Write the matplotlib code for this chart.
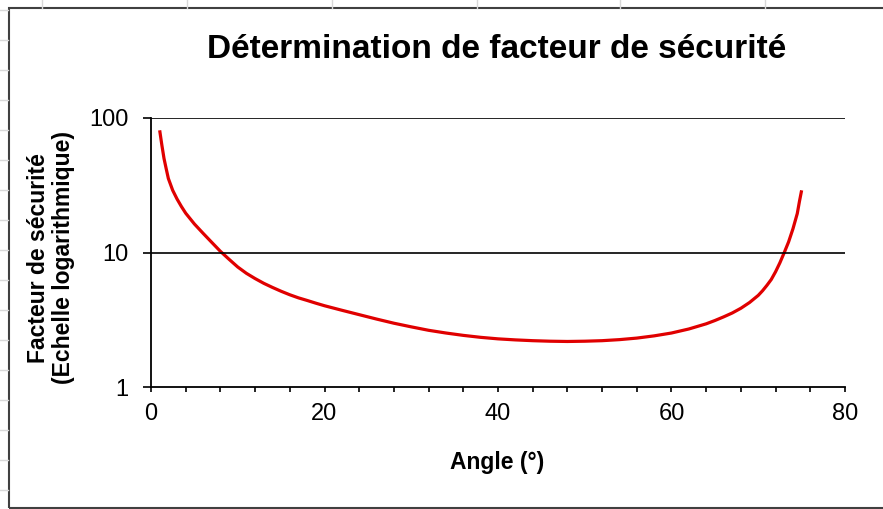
import matplotlib
matplotlib.use("Agg")
import matplotlib.pyplot as plt
from matplotlib.patches import Rectangle
from matplotlib.lines import Line2D
from matplotlib.ticker import FixedLocator, NullLocator

plt.rcParams['font.family'] = ['Liberation Sans', 'DejaVu Sans']

# values
angles = [1, 1.25, 1.5, 1.75, 2, 2.5, 3, 3.5, 4, 5, 6, 7, 8, 9, 10, 11, 12,
          13, 14, 15, 16, 17, 18, 19, 20, 22, 24, 26, 28, 30, 32, 34, 36, 38,
          40, 42, 44, 46, 48, 50, 52, 54, 56, 58, 60, 62, 64, 65, 66, 67, 68,
          69, 70, 70.5, 71, 71.5, 72, 72.5, 73, 73.5, 74, 74.5, 74.75, 75]
facteur = [81, 63, 50, 42, 35.5, 29, 25, 22, 19.6, 16.3, 13.9, 11.9, 10.2,
           8.9, 7.8, 7.0, 6.4, 5.9, 5.5, 5.15, 4.85, 4.6, 4.4, 4.2, 4.02,
           3.72, 3.45, 3.2, 2.98, 2.8, 2.64, 2.52, 2.42, 2.34, 2.28, 2.24,
           2.21, 2.19, 2.18, 2.19, 2.21, 2.25, 2.31, 2.4, 2.52, 2.7, 2.95,
           3.12, 3.32, 3.55, 3.85, 4.25, 4.8, 5.2, 5.7, 6.3, 7.2, 8.4, 10.0,
           12.0, 15.0, 19.5, 24, 29]

x_ticks = [0, 20, 40, 60, 80]
y_ticks = [1, 10, 100]
y_tick_labels = ["1", "10", "100"]

W, H = 883, 509
fig = plt.figure(figsize=(W / 100, H / 100), dpi=100)

# faint spreadsheet cell marks around the chart
for xc in [42, 187, 332, 477, 620, 765]:
    fig.add_artist(Line2D([xc / W, xc / W], [1 - 0 / H, 1 - 8 / H],
                          color="#d8d8d8", lw=1))
for yc in range(10, 509, 30):
    fig.add_artist(Line2D([0, 8 / W], [1 - yc / H, 1 - yc / H],
                          color="#d8d8d8", lw=1))

# chart border
fig.add_artist(Rectangle((9 / W, 1 - 508 / H), 880 / W, 500 / H,
                         fill=False, edgecolor="#404040", lw=1.5))

ax = fig.add_axes([151 / W, 1 - 387 / H, 694 / W, 269 / H])
ax.plot(angles, facteur, color="#e00000", lw=2.3, solid_capstyle="butt",
        solid_joinstyle="round")

ax.set_yscale("log")
ax.set_ylim(1, 100)
ax.set_xlim(0, 80)

ax.yaxis.set_major_locator(FixedLocator(y_ticks))
ax.yaxis.set_minor_locator(NullLocator())
ax.set_yticklabels(y_tick_labels)
ax.set_xticks(x_ticks)
ax.set_xticks(range(0, 81, 4), minor=True)

for v in [10, 100]:
    ax.axhline(v, color="black", lw=1.2)

for s in ["top", "right"]:
    ax.spines[s].set_visible(False)
for s in ["left", "bottom"]:
    ax.spines[s].set_linewidth(1.3)

ax.tick_params(axis="y", which="major", direction="out", length=6, width=1.2,
               labelsize=17, pad=10)
ax.tick_params(axis="x", which="both", direction="out", length=3.5, width=1.2,
               labelsize=17, pad=8)

fig.text(497 / W, 1 - 50 / H, "Détermination de facteur de sécurité",
         ha="center", va="center", fontsize=24, fontweight="bold")
fig.text(497 / W, 1 - 462 / H, "Angle (°)", ha="center", va="center",
         fontsize=16.5, fontweight="bold")
fig.text(51 / W, 1 - 258 / H, "Facteur de sécurité\n(Echelle logarithmique)",
         ha="center", va="center", rotation=90, multialignment="center",
         fontsize=16.5, fontweight="bold", linespacing=1.15)

fig.savefig("out.png", dpi=100)
